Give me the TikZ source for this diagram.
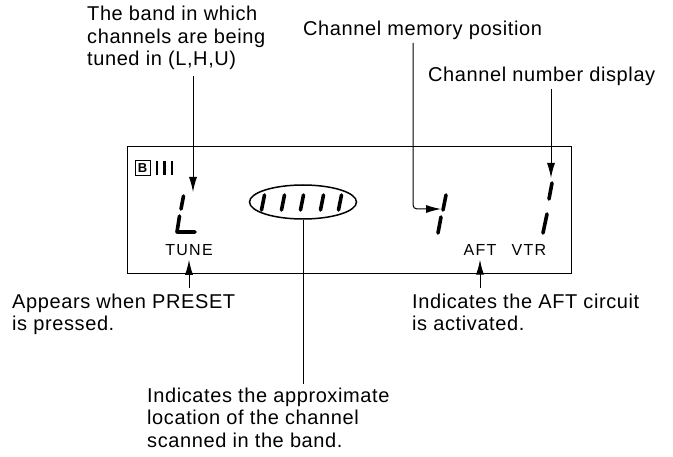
\documentclass[tikz,border=0pt]{standalone}
\usepackage{fontspec}
\setmainfont{Liberation Sans}[LetterSpace=3]
\newfontfamily\lcdfamily{Liberation Sans}[LetterSpace=8]
\usetikzlibrary{arrows.meta,shapes.geometric,positioning}

\begin{document}
\begin{tikzpicture}[x=1pt,y=-1pt,
    lbl/.style={font=\fontsize{20}{22.5}\selectfont, align=left, inner sep=0pt, anchor=base west},
    lcd/.style={font=\lcdfamily\fontsize{16}{16}\selectfont, inner sep=4pt},
    ptr/.style={line width=1pt, -{Latex[length=15pt,width=8pt]}},
    seg/.style={line width=3.6pt, line cap=round, line join=round}]
    \useasboundingbox (0,0) rectangle (673,457);

    % display panel
    \node[draw, line width=1.1pt, minimum width=444pt, minimum height=127pt,
          inner sep=0pt, anchor=north west] (panel) at (127,146) {};

    % labels (base = last line)
    \node[lbl] (band) at (87,66) {The band in which\\channels are being\\tuned in (L,H,U)};
    \node[lbl] (memory) at (303,36) {Channel memory position};
    \node[lbl] (number) at (428,82) {Channel number display};
    \node[lbl] (preset) at (12,331) {Appears when PRESET\\is pressed.};
    \node[lbl] (aftnote) at (412,331) {Indicates the AFT circuit\\is activated.};
    \node[lbl] (scannote) at (147,447) {Indicates the approximate\\location of the channel\\scanned in the band.};

    % band flag and bars
    \node[draw, line width=1pt, inner sep=1pt, minimum size=15pt,
          font=\bfseries\fontsize{13}{13}\selectfont] (flag) at (142.5,168.5) {B};
    \foreach \x in {157,164.5,172}
        \draw[line width=2.6pt] (\x,161.5) -- (\x,175.5);

    \node[lcd] (tune) at (189,250) {TUNE};
    \node[lcd] (aft) at (480,250) {AFT};
    \node[lcd] (vtr) at (529,250) {VTR};

    % scan ellipse
    \node[draw, ellipse, line width=1.5pt, minimum width=107pt, minimum height=34pt,
          inner sep=0pt] (scan) at (303,202) {};
    \foreach \x in {263,283,302,322,340}
        \draw[seg] (\x+1.5,195) -- (\x-1.5,210);

    % digits
    \draw[seg] (183.5,196) -- (181,209);
    \draw[seg] (179.5,216) -- (177,232) -- (195,232);
    \draw[seg] (446,195) -- (443,210);
    \draw[seg] (441,217) -- (438,233);
    \draw[seg] (552,183) -- (549,199);
    \draw[seg] (547,214) -- (543,233);

    % connectors
    \coordinate (bandtail) at (193,76);
    \coordinate (bandtip) at (193,192);
    \draw[ptr] (bandtail) -- (bandtip);
    \coordinate (memtail) at (413,43);
    \coordinate (memtip) at (441,209);
    \draw[ptr, rounded corners=4pt] (memtail) |- (memtip);
    \coordinate (numtail) at (551,89);
    \coordinate (numtip) at (551,178);
    \draw[ptr] (numtail) -- (numtip);
    \coordinate (presettail) at (189,288);
    \draw[ptr] (presettail) -- (tune.south);
    \coordinate (afttail) at (aft.south |- presettail);
    \draw[ptr] (afttail) -- (aft.south);
    \coordinate (scanend) at (303,384);
    \draw[line width=1pt] (scan.south) -- (scanend);
\end{tikzpicture}
\end{document}
